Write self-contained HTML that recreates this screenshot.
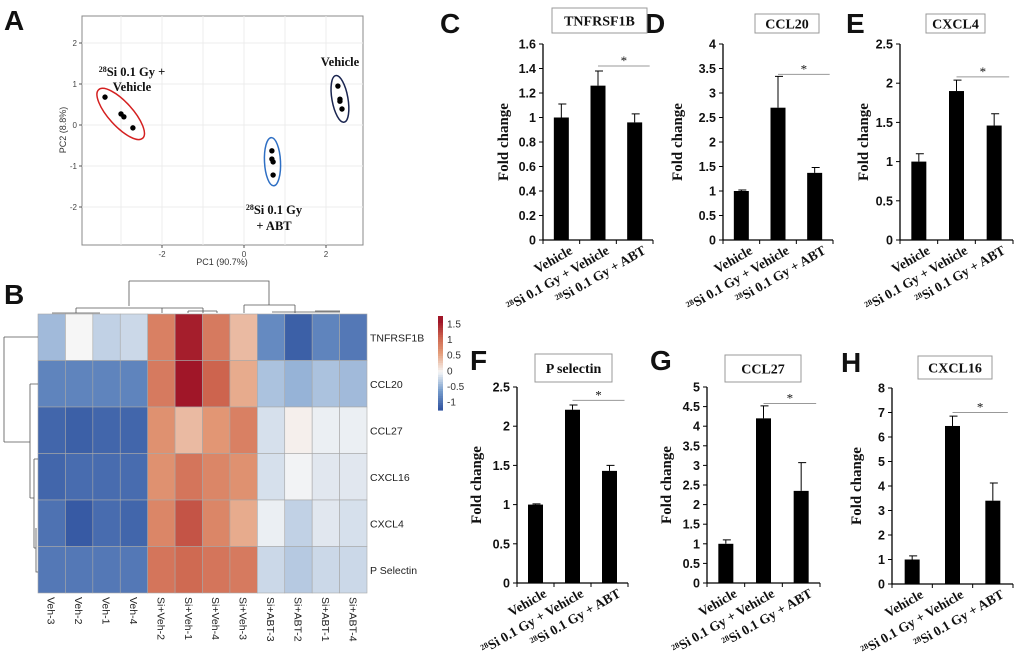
<!DOCTYPE html>
<html><head><meta charset="utf-8"><style>
html,body{margin:0;padding:0;background:#fff;}
svg{display:block;}
.sans{font-family:"Liberation Sans",Arial,sans-serif;}
.serif{font-family:"Liberation Serif","Times New Roman",serif;}
</style></head><body>
<svg id="fig" width="1020" height="666" viewBox="0 0 1020 666" xmlns="http://www.w3.org/2000/svg">
<g class="sans" font-weight="bold" font-size="28" fill="#111">
<text x="4" y="30">A</text>
<text x="4" y="304">B</text>
<text x="440" y="33">C</text>
<text x="645" y="33">D</text>
<text x="846" y="33">E</text>
<text x="470" y="370">F</text>
<text x="650" y="370">G</text>
<text x="841" y="372">H</text>
</g>
<g id="pca"></g>
<g id="heat"></g>
<g id="bars"></g>
</svg>
<script>
// ---------- PCA data ----------
const pcaGroups = ["Si+Vehicle", "Si+ABT", "Vehicle"];
const pc1SiVeh = [-3.39, -3.0, -2.93, -2.71];
const pc2SiVeh = [0.68, 0.27, 0.2, -0.07];
const pc1SiAbt = [0.68, 0.68, 0.71, 0.71];
const pc2SiAbt = [-0.63, -0.83, -0.9, -1.22];
const pc1Veh = [2.29, 2.34, 2.34, 2.39];
const pc2Veh = [0.95, 0.63, 0.58, 0.39];
const pcaXTicks = [-2, 0, 2];
const pcaYTicks = [-2, -1, 0, 1, 2];

// ---------- Heatmap data ----------
const heatCols = ["Veh-3","Veh-2","Veh-1","Veh-4","Si+Veh-2","Si+Veh-1","Si+Veh-4","Si+Veh-3","Si+ABT-3","Si+ABT-2","Si+ABT-1","Si+ABT-4"];
const heatRows = ["TNFRSF1B","CCL20","CCL27","CXCL16","CXCL4","P Selectin"];
const zTNFRSF1B = [-0.4, 0.0, -0.25, -0.2, 0.85, 1.55, 0.9, 0.4, -0.75, -1.1, -0.8, -0.9];
const zCCL20 = [-0.8, -0.8, -0.8, -0.8, 0.9, 1.6, 1.1, 0.5, -0.35, -0.45, -0.35, -0.4];
const zCCL27 = [-1.05, -1.1, -1.05, -1.05, 0.7, 0.4, 0.65, 0.85, -0.15, 0.05, -0.05, -0.05];
const zCXCL16 = [-1.05, -1.0, -1.0, -1.0, 0.7, 0.95, 0.8, 0.7, -0.15, -0.02, -0.1, -0.1];
const zCXCL4 = [-0.95, -1.15, -1.0, -1.05, 0.8, 1.2, 0.8, 0.5, -0.05, -0.25, -0.1, -0.15];
const zPSelectin = [-0.9, -0.9, -0.9, -0.9, 0.95, 1.05, 0.95, 0.9, -0.2, -0.3, -0.2, -0.2];
const heatLegendTicks = [1.5, 1, 0.5, 0, -0.5, -1];

// ---------- Bar chart data ----------
const barCategories = ["Vehicle", "Si 0.1 Gy + Vehicle", "Si 0.1 Gy + ABT"];
const cValues = [1.0, 1.26, 0.96];
const cErrors = [1.11, 1.38, 1.03];
const cTicks = [0, 0.2, 0.4, 0.6, 0.8, 1, 1.2, 1.4, 1.6];
const dValues = [1.0, 2.7, 1.37];
const dErrors = [1.02, 3.34, 1.48];
const dTicks = [0, 0.5, 1, 1.5, 2, 2.5, 3, 3.5, 4];
const eValues = [1.0, 1.9, 1.46];
const eErrors = [1.1, 2.04, 1.61];
const eTicks = [0, 0.5, 1, 1.5, 2, 2.5];
const fValues = [1.0, 2.21, 1.43];
const fErrors = [1.01, 2.27, 1.5];
const fTicks = [0, 0.5, 1, 1.5, 2, 2.5];
const gValues = [1.0, 4.2, 2.35];
const gErrors = [1.1, 4.52, 3.07];
const gTicks = [0, 0.5, 1, 1.5, 2, 2.5, 3, 3.5, 4, 4.5, 5];
const hValues = [1.0, 6.45, 3.4];
const hErrors = [1.15, 6.85, 4.12];
const hTicks = [0, 1, 2, 3, 4, 5, 6, 7, 8];
const sigLevels = [1.42, 3.38, 2.08, 2.33, 4.58, 7.0];

const NS = "http://www.w3.org/2000/svg";
function mk(tag, attrs, parent) {
  const e = document.createElementNS(NS, tag);
  for (const k in attrs) e.setAttribute(k, attrs[k]);
  parent.appendChild(e);
  return e;
}

// ================= PCA =================
(function(){
  const g = document.getElementById('pca');
  const x0 = 82, x1 = 363, y0 = 16, y1 = 245;
  const sx = v => 244 + 41 * v;
  const sy = v => 125 - 41 * v;
  mk('rect', {x:x0, y:y0, width:x1-x0, height:y1-y0, fill:'#fff', stroke:'#888', 'stroke-width':1}, g);
  for (let v = -3; v <= 2; v++) {
    const gl = mk('line', {x1:sx(v), x2:sx(v), y1:y0, y2:y1, stroke:'#ececec', 'stroke-width':1}, g);
    
    
  }
  for (let v = -2; v <= 2; v++) {
    const gl = mk('line', {x1:x0, x2:x1, y1:sy(v), y2:sy(v), stroke:'#ececec', 'stroke-width':1}, g);
    
    
  }
  pcaXTicks.forEach(v => {
    mk('line', {x1:sx(v), x2:sx(v), y1:y1, y2:y1+3, stroke:'#555'}, g);
    const t = mk('text', {x:sx(v), y:y1+12, 'text-anchor':'middle', 'font-size':8, fill:'#444', class:'sans'}, g);
    t.textContent = String(v);
    
    
  });
  pcaYTicks.forEach(v => {
    mk('line', {x1:x0-3, x2:x0, y1:sy(v), y2:sy(v), stroke:'#555'}, g);
    const t = mk('text', {x:x0-5, y:sy(v)+3, 'text-anchor':'end', 'font-size':8, fill:'#444', class:'sans'}, g);
    t.textContent = String(v);
    
    
  });
  const xt = mk('text', {x:222, y:265, 'text-anchor':'middle', 'font-size':9, fill:'#333', class:'sans'}, g);
  xt.textContent = 'PC1 (90.7%)';
  
  
  const yt = mk('text', {x:0, y:0, 'text-anchor':'middle', 'font-size':9, fill:'#333', class:'sans', transform:'translate(66,130) rotate(-90)'}, g);
  yt.textContent = 'PC2 (8.8%)';
  
  

  const sets = [[pc1SiVeh, pc2SiVeh, '#d42020'], [pc1SiAbt, pc2SiAbt, '#2e6fc4'], [pc1Veh, pc2Veh, '#1a2550']];
  sets.forEach((s, i) => {
    const xs = s[0].map(sx), ys = s[1].map(sy);
    const cx = xs.reduce((a,b)=>a+b,0)/xs.length, cy = ys.reduce((a,b)=>a+b,0)/ys.length;
    const dx = xs[xs.length-1]-xs[0], dy = ys[ys.length-1]-ys[0];
    const ang = Math.atan2(dy, dx) * 180 / Math.PI;
    const len = Math.hypot(dx, dy) / 2 + 12;
    const el = mk('ellipse', {cx:cx, cy:cy, rx:len, ry:(i===0?12:8), fill:'none', stroke:s[2], 'stroke-width':1.5, transform:`rotate(${ang} ${cx} ${cy})`}, g);
    
    
    xs.forEach((x, j) => {
      const p = mk('circle', {cx:x, cy:ys[j], r:2.7, fill:'#000'}, g);
      
      
    });
  });
  const labs = [
    [132, 76, '<tspan baseline-shift="super" font-size="8">28</tspan>Si 0.1 Gy +'],
    [132, 91, 'Vehicle'],
    [340, 66, 'Vehicle'],
    [274, 214, '<tspan baseline-shift="super" font-size="8">28</tspan>Si 0.1 Gy'],
    [274, 230, '+ ABT']
  ];
  labs.forEach(l => {
    const t = mk('text', {x:l[0], y:l[1], 'text-anchor':'middle', 'font-size':12.5, 'font-weight':'bold', fill:'#111', class:'serif'}, g);
    t.innerHTML = l[2];
    
    
  });
})();

// ================= Heatmap =================
function heatColor(z) {
  const stops = [[-1.2,[49,84,160]],[-0.6,[118,156,204]],[0,[246,246,246]],[0.6,[228,156,120]],[1.1,[205,100,78]],[1.6,[160,22,40]]];
  if (z <= stops[0][0]) return `rgb(${stops[0][1]})`;
  for (let i = 1; i < stops.length; i++) {
    if (z <= stops[i][0]) {
      const t = (z - stops[i-1][0]) / (stops[i][0] - stops[i-1][0]);
      const c = stops[i-1][1].map((a, k) => Math.round(a + (stops[i][1][k] - a) * t));
      return `rgb(${c})`;
    }
  }
  return `rgb(${stops[stops.length-1][1]})`;
}
(function(){
  const g = document.getElementById('heat');
  const hx0 = 38, hx1 = 367, hy0 = 314, hy1 = 593;
  const cw = (hx1 - hx0) / heatCols.length, ch = (hy1 - hy0) / heatRows.length;
  const matrix = [zTNFRSF1B, zCCL20, zCCL27, zCXCL16, zCXCL4, zPSelectin];
  matrix.forEach((row, r) => {
    row.forEach((z, c) => {
      const cell = mk('rect', {x:hx0 + c*cw, y:hy0 + r*ch, width:cw, height:ch, fill:heatColor(z), stroke:'#a8a8a8', 'stroke-width':0.6}, g);
      
      
    });
    const t = mk('text', {x:hx1 + 3, y:hy0 + r*ch + ch/2 + 4, 'font-size':10.5, fill:'#222', class:'sans'}, g);
    t.textContent = heatRows[r];
    
    
  });
  heatCols.forEach((name, c) => {
    const cx = hx0 + c*cw + cw/2;
    const t = mk('text', {x:0, y:0, 'font-size':10.5, fill:'#222', class:'sans', transform:`translate(${cx-4},${hy1+4}) rotate(90)`}, g);
    t.textContent = name;
    
    
  });
  const dpaths = [
    'M129,281 V306 M129,281 H269 V305',
    'M76,308 H203 M76,308 V313 M203,308 V313',
    'M52,313 H100 M162,308 V313 M188,311 H217 M188,311 V313 M217,311 V313',
    'M244,305 H295 M244,305 V313 M295,305 V313 M272,312 H340 M315,311 H340',
    'M4,337 V442 M4,337 H38 M4,442 H30 M30,384 V498 M30,384 H38 M30,498 H34 M34,459 V548 M34,459 H38 M34,548 H36 M36,528 V572 H38'
  ];
  dpaths.forEach(d => {
    const p = mk('path', {d:d, fill:'none', stroke:'#555', 'stroke-width':0.8}, g);
    
    
  });
  const lgTop = 316, lgBot = 410, zTop = 1.75, zBot = -1.25;
  const ly = z => lgTop + (zTop - z) / (zTop - zBot) * (lgBot - lgTop);
  for (let i = 0; i < 40; i++) {
    const z = zTop - (zTop - zBot) * i / 40;
    const s = mk('rect', {x:438, y:lgTop + i*(lgBot-lgTop)/40, width:5, height:(lgBot-lgTop)/40 + 0.6, fill:heatColor(z)}, g);
    
    
  }
  heatLegendTicks.forEach(v => {
    const t = mk('text', {x:447, y:ly(v) + 3.5, 'font-size':10, fill:'#333', class:'sans'}, g);
    t.textContent = String(v);
    
    
  });
})();

// ================= Bar charts =================
function drawBarChart(id, title, values, errors, ticks, sig, geo) {
  const g = mk('g', {}, document.getElementById('bars'));
  
  
  const yMax = ticks[ticks.length-1];
  const sy = v => geo.y0 - v / yMax * (geo.y0 - geo.yTop);
  const box = mk('rect', {x:geo.bx0, y:geo.by0, width:geo.bx1-geo.bx0, height:geo.by1-geo.by0, fill:'#fff', stroke:'#999', 'stroke-width':1}, g);
  
  
  const tt = mk('text', {x:(geo.bx0+geo.bx1)/2, y:(geo.by0+geo.by1)/2 + 5, 'text-anchor':'middle', 'font-size':14, 'font-weight':'bold', fill:'#111', class:'serif'}, g);
  tt.textContent = title;
  
  
  mk('line', {x1:geo.ax, x2:geo.ax, y1:geo.yTop, y2:geo.y0, stroke:'#000', 'stroke-width':1.3}, g);
  ticks.forEach(v => {
    mk('line', {x1:geo.ax-4, x2:geo.ax, y1:sy(v), y2:sy(v), stroke:'#000', 'stroke-width':1}, g);
    const t = mk('text', {x:geo.ax-7, y:sy(v)+4.5, 'text-anchor':'end', 'font-size':12.5, 'font-weight':'bold', fill:'#111', class:'sans'}, g);
    t.textContent = String(v);
    
    
  });
  const yl = mk('text', {x:0, y:0, 'text-anchor':'middle', 'font-size':15, 'font-weight':'bold', fill:'#111', class:'serif', transform:`translate(${geo.lx},${(geo.y0+geo.yTop)/2}) rotate(-90)`}, g);
  yl.textContent = 'Fold change';
  
  
  mk('line', {x1:geo.ax, x2:geo.axEnd, y1:geo.y0, y2:geo.y0, stroke:'#000', 'stroke-width':1.3}, g);
  const step = (geo.axEnd - geo.ax) / values.length;
  for (let i = 0; i <= values.length; i++) {
    mk('line', {x1:geo.ax + i*step, x2:geo.ax + i*step, y1:geo.y0, y2:geo.y0+4, stroke:'#000', 'stroke-width':1}, g);
  }
  const bw = 15;
  values.forEach((v, i) => {
    const cx = geo.ax + (i + 0.5) * step;
    const bar = mk('rect', {x:cx - bw/2, y:sy(v), width:bw, height:geo.y0 - sy(v), fill:'#000'}, g);
    
    
    const err = mk('path', {d:`M${cx},${sy(v)} V${sy(errors[i])} M${cx-3},${sy(errors[i])} H${cx+5}`, stroke:'#000', 'stroke-width':1, fill:'none'}, g);
    
    
    const lab = mk('text', {x:0, y:0, 'text-anchor':'end', 'font-size':13.5, 'font-weight':'bold', fill:'#111', class:'serif', transform:`translate(${cx+12},${geo.y0+13}) rotate(-30)`}, g);
    lab.innerHTML = i === 0 ? barCategories[i] : '<tspan baseline-shift="super" font-size="8">28</tspan>' + barCategories[i];
    
    
  });
  const c2 = geo.ax + 1.5*step, c3 = geo.ax + 2.5*step;
  const sl = mk('line', {x1:c2, x2:c3 + bw, y1:sy(sig), y2:sy(sig), stroke:'#999', 'stroke-width':1}, g);
  
  
  const st = mk('text', {x:(c2+c3+bw)/2, y:sy(sig) - 1, 'text-anchor':'middle', 'font-size':13, fill:'#111', class:'serif'}, g);
  st.textContent = '*';
  
  
}
drawBarChart('c', 'TNFRSF1B', cValues, cErrors, cTicks, sigLevels[0], {ax:543, axEnd:653, y0:240, yTop:44, lx:508, bx0:552, bx1:647, by0:8, by1:33});
drawBarChart('d', 'CCL20', dValues, dErrors, dTicks, sigLevels[1], {ax:723, axEnd:833, y0:240, yTop:44, lx:682, bx0:755, bx1:819, by0:14, by1:33});
drawBarChart('e', 'CXCL4', eValues, eErrors, eTicks, sigLevels[2], {ax:900, axEnd:1013, y0:240, yTop:44, lx:868, bx0:926, bx1:985, by0:14, by1:33});
drawBarChart('f', 'P selectin', fValues, fErrors, fTicks, sigLevels[3], {ax:517, axEnd:628, y0:583, yTop:387, lx:481, bx0:535, bx1:612, by0:354, by1:382});
drawBarChart('g', 'CCL27', gValues, gErrors, gTicks, sigLevels[4], {ax:707, axEnd:820, y0:583, yTop:387, lx:671, bx0:725, bx1:801, by0:355, by1:382});
drawBarChart('h', 'CXCL16', hValues, hErrors, hTicks, sigLevels[5], {ax:892, axEnd:1013, y0:584, yTop:388, lx:861, bx0:918, bx1:992, by0:356, by1:379});
</script>
</body></html>
